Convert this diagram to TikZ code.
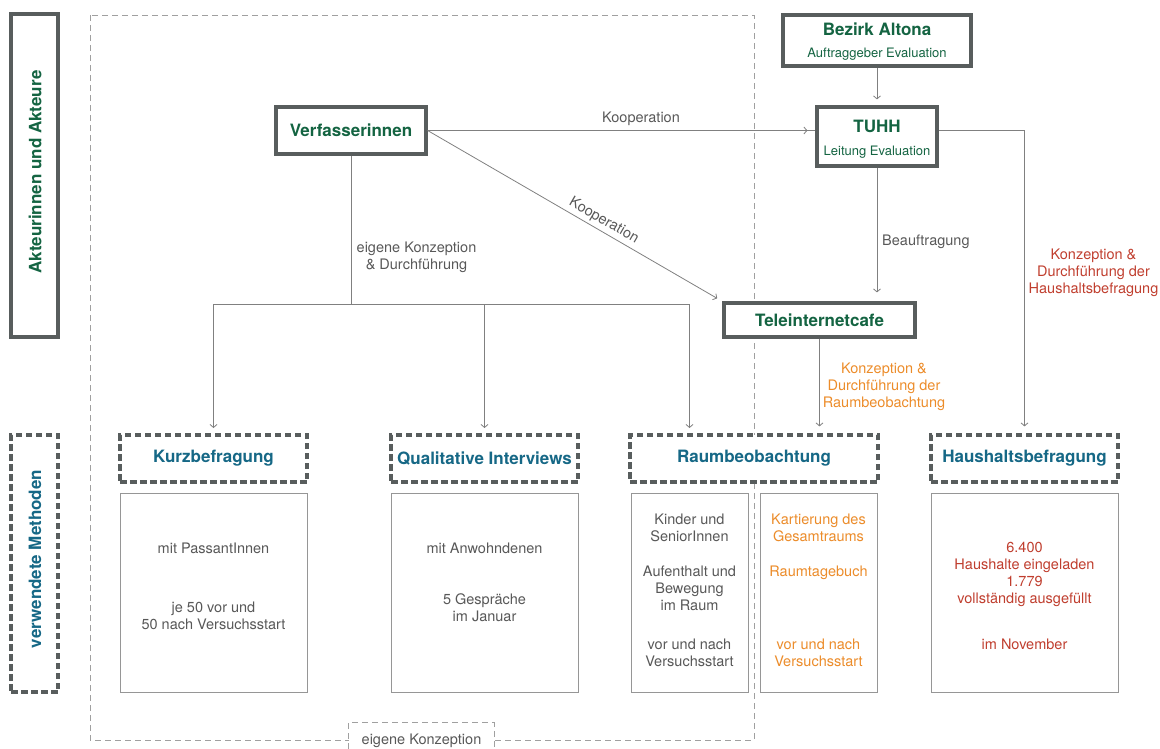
\documentclass[tikz,border=0pt]{standalone}
\usepackage{fontspec}
\setmainfont{TeX Gyre Heros}
\usetikzlibrary{arrows.meta, positioning}

\definecolor{akteurgreen}{RGB}{20,100,66}
\definecolor{methodblue}{RGB}{22,104,134}
\definecolor{boxgray}{RGB}{88,93,93}
\definecolor{linegray}{RGB}{128,128,128}
\definecolor{contentgray}{RGB}{150,150,150}
\definecolor{zonegray}{RGB}{160,160,160}
\definecolor{textgray}{RGB}{88,88,88}
\definecolor{raumorange}{RGB}{236,140,42}
\definecolor{haushaltred}{RGB}{192,62,46}

\newcommand{\akTitle}{\bfseries\fontsize{17}{20}\selectfont}
\newcommand{\akBody}{\fontsize{14.5}{17}\selectfont}
\newcommand{\akSmall}{\fontsize{13}{15}\selectfont}

\begin{document}
\begin{tikzpicture}[x=1pt, y=-1pt,
		actor/.style={draw=boxgray, line width=3.2pt, fill=white, inner sep=0pt, text=akteurgreen, font=\akTitle},
		method/.style={draw=boxgray, line width=3.2pt, dash pattern=on 6.5pt off 3.5pt, fill=white, inner sep=0pt, minimum width=187pt, minimum height=47pt, text=methodblue, font=\akTitle},
		content/.style={draw=contentgray, line width=1pt, fill=white, inner sep=0pt, minimum width=187pt, minimum height=199pt},
		zone/.style={draw=zonegray, line width=0.9pt, dash pattern=on 6pt off 4pt},
		flow/.style={draw=linegray, line width=0.8pt, -{Straight Barb[length=3pt, width=7pt]}},
		link/.style={draw=linegray, line width=0.8pt},
		lbl/.style={inner sep=0pt, align=center, text=textgray, font=\akBody},
	]
	\useasboundingbox (0,0) rectangle (1160,749);

	\def\bus{304};

	\begin{scope}
		\draw[zone] (90,15) rectangle (754,740);
		\node[minimum width=145pt, minimum height=26pt, fill=white, inner sep=0pt] (ek) at (421.5,736) {};
		\draw[zone] (ek.south west) -- (ek.north west) -- (ek.north east) -- (ek.south east);
		\node[lbl, anchor=base] (ekT) at (421.5,744) {eigene Konzeption};
	\end{scope}

	\begin{scope}
		\node[actor, minimum width=47pt, minimum height=323pt] (akteure) at (34.5,175.5) {};
		\node[rotate=90, text=akteurgreen, font=\akTitle] (akteureT) at (35,172) {Akteurinnen und Akteure};
		\node[actor, dash pattern=on 6.5pt off 3.5pt, minimum width=47pt, minimum height=257pt] (methoden) at (34.5,563.5) {};
		\node[rotate=90, text=methodblue, font=\akTitle] (methodenT) at (35,559) {verwendete Methoden};
	\end{scope}

	\begin{scope}
		\node[actor, minimum width=188pt, minimum height=51pt] (bezirk) at (877,40.5) {};
		\node[anchor=base, inner sep=0pt, text=akteurgreen, font=\akTitle] (bezirkT) at (877,35.3) {Bezirk Altona};
		\node[anchor=base, inner sep=0pt, text=akteurgreen, font=\akSmall] (bezirkS) at (877,57.5) {Auftraggeber Evaluation};

		\node[actor, minimum width=120pt, minimum height=59pt] (tuhh) at (877,136.5) {};
		\node[anchor=base, inner sep=0pt, text=akteurgreen, font=\akTitle] (tuhhT) at (877,133) {TUHH};
		\node[anchor=base, inner sep=0pt, text=akteurgreen, font=\akSmall] (tuhhS) at (877,156) {Leitung Evaluation};

		\node[actor, minimum width=150pt, minimum height=47pt] (verf) at (351,130.5) {Verfasserinnen};
		\node[actor, minimum width=191pt, minimum height=34pt] (tele) at (819.5,320) {Teleinternetcafe};
	\end{scope}

	\begin{scope}
		\node[method] (kurz) at (213.5,458.5) {Kurzbefragung};
		\node[method] (quali) at (484.5,458.5) {Qualitative Interviews};
		\node[method, minimum width=248pt] (raum) at (754,458.5) {Raumbeobachtung};
		\node[method] (haus) at (1024.5,458.5) {Haushaltsbefragung};

		\node[content] (kurzC) at (213.5,592.5) {};
		\node[content] (qualiC) at (484.5,592.5) {};
		\node[content, minimum width=117pt] (raumL) at (689.5,592.5) {};
		\node[content, minimum width=117pt] (raumR) at (818.5,592.5) {};
		\node[content] (hausC) at (1024.5,592.5) {};
	\end{scope}

	\begin{scope}
		\draw[link] (verf.east) -- (tuhh.west |- verf.east) coordinate (tuhhIn);
		\draw[flow, shorten >=8pt] (verf.east) -- (tuhhIn);
		\node[lbl, anchor=base] (koopA) at (641,123) {Kooperation};
		\draw[flow, shorten >=6pt] (verf.east) -- node[lbl, sloped, above=3pt, pos=0.58] (koopB) {Kooperation} (tele.north west);

		\draw[flow, shorten >=6pt] (bezirk.south) -- (tuhh.north);
		\draw[flow, shorten >=9pt] (tuhh.south) -- (tuhh.south |- tele.north);
		\node[lbl, anchor=base west] (beauf) at (882,245) {Beauftragung};

		\coordinate (tuhhOut) at (tuhh.east |- verf.east);
		\draw[flow, shorten >=7pt] (tuhhOut) -| (haus.north);
		\node[lbl, anchor=north, text=haushaltred] (hausKonz) at (1093.5,248.5) {Konzeption \&\\Durchführung der\\Haushaltsbefragung};

		\draw[flow, shorten >=7pt] (tele.south) -- (tele.south |- raum.north);
		\node[lbl, anchor=north, text=raumorange] (raumKonz) at (884,362.5) {Konzeption \&\\Durchführung der\\Raumbeobachtung};

		\draw[link] (verf.south) -- (verf.south |- 0,\bus);
		\draw[link] (kurz.north |- 0,\bus) -- (raumL.north |- 0,\bus);
		\node[lbl, anchor=north] (eigDurch) at (416.5,241.5) {eigene Konzeption\\\& Durchführung};
		\foreach \m/\x in {kurz/213.5, quali/484.5, raumL/689.5}
			\draw[flow, shorten >=7pt] (\x,\bus) -- (\x,435);
	\end{scope}

	\begin{scope}
		\node[lbl, anchor=base] (kurzA) at (213.5,553) {mit PassantInnen};
		\node[lbl, anchor=north] (kurzB) at (213.5,601.5) {je 50 vor und\\50 nach Versuchsstart};

		\node[lbl, anchor=base] (qualiA) at (484.5,553) {mit Anwohndenen};
		\node[lbl, anchor=north] (qualiB) at (484.5,593.5) {5 Gespräche\\im Januar};

		\node[lbl, anchor=north] (raumLA) at (689.5,513.5) {Kinder und\\SeniorInnen};
		\node[lbl, anchor=north] (raumLB) at (689.5,565.5) {Aufenthalt und\\Bewegung\\im Raum};
		\node[lbl, anchor=north] (raumLC) at (689.5,638.5) {vor und nach\\Versuchsstart};

		\node[lbl, anchor=north, text=raumorange] (raumRA) at (818.5,513.5) {Kartierung des\\Gesamtraums};
		\node[lbl, anchor=base, text=raumorange] (raumRB) at (818.5,576) {Raumtagebuch};
		\node[lbl, anchor=north, text=raumorange] (raumRC) at (818.5,638.5) {vor und nach\\Versuchsstart};

		\node[lbl, anchor=north, text=haushaltred] (hausA) at (1024.5,542.5) {6.400\\Haushalte eingeladen\\1.779\\vollständig ausgefüllt};
		\node[lbl, anchor=base, text=haushaltred] (hausB) at (1024.5,649) {im November};
	\end{scope}
\end{tikzpicture}
\end{document}
